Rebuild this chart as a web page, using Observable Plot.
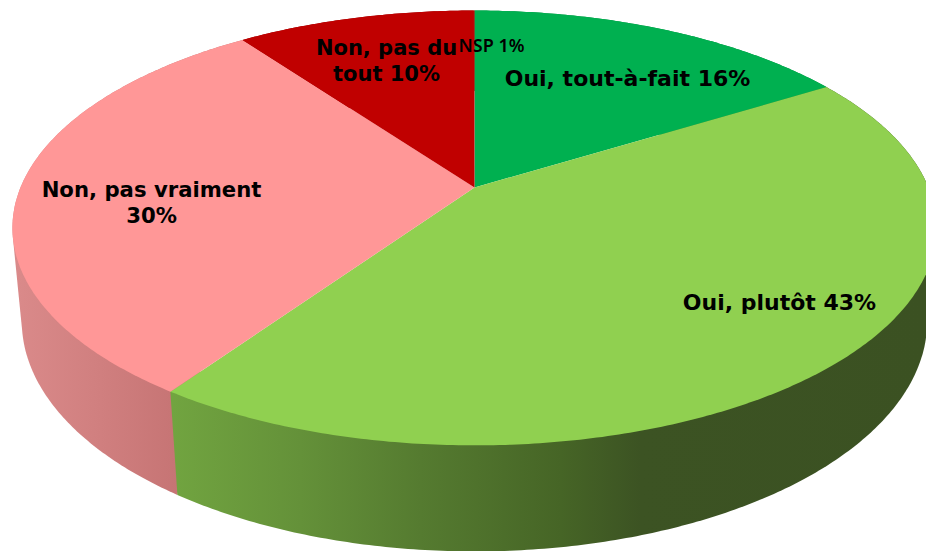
<!DOCTYPE html>
<html lang="fr">
<head>
<meta charset="utf-8">
<style>html,body{margin:0;padding:0;background:#fff;overflow:hidden}</style>
<script src="https://cdn.jsdelivr.net/npm/d3@7"></script>
<script src="https://cdn.jsdelivr.net/npm/@observablehq/plot@0.6"></script>
</head>
<body>
<div id="chart"></div>
<script>
// Data
const categories = ["Oui, tout-à-fait", "Oui, plutôt", "Non, pas vraiment", "Non, pas du tout", "NSP"];
const percentLabels = [16, 43, 30, 10, 1];
const sliceShares = [16.2, 43.4, 30.4, 9.97, 0.03]; // as drawn on the disc
const labelTexts = ["Oui, tout-à-fait 16%", "Oui, plutôt 43%", "Non, pas vraiment\n30%", "Non, pas du\ntout 10%", "NSP 1%"];

// Layout and style
const topColors = ["#00B050", "#90D050", "#FF9797", "#C00000", "#C00000"];
const wallFills = ["#008a3e", "url(#wallGreen)", "url(#wallPink)", "#8f0000", "#8f0000"];
const labelX = [153, 305, -323, -88, 17];
const labelY = [-110, 114, 14, -128, -143];
const labelSizes = [22, 22, 21.2, 21, 18];
const labelFonts = ["DejaVu Sans", "DejaVu Sans", "DejaVu Sans", "DejaVu Sans", "Noto Sans"];
const labelWeights = ["bold", "bold", "bold", "bold", 600];
const wallOrder = [3, 4, 0, 2, 1]; // back to front

// Projection of the tilted disc (perspective) in chart units
const A = 454, B = 209.9, K = 0.186, DEPTH_W = 0.02, DEPTH_Y = 93.6;
function project(pct, lower) {
  const a = pct / 100 * 2 * Math.PI, u = Math.sin(a), v = Math.cos(a);
  const w = 1 + K * v + (lower ? DEPTH_W : 0);
  return [A * u / w, (-B * v + (lower ? DEPTH_Y : 0)) / w];
}
function arc(p0, p1, lower) {
  const n = Math.max(2, Math.ceil((p1 - p0) * 6));
  return d3.range(n + 1).map(i => project(p0 + (p1 - p0) * i / n, lower));
}
let acc = 0;
const slices = sliceShares.map((s, i) => {
  const start = acc; acc += s;
  return {i, name: categories[i], value: percentLabels[i], start, end: acc};
});
const closed = pts => pts.concat([pts[0]]);

const faces = slices.map(s => closed([[0, 0], ...arc(s.start, s.end, false)]));
const walls = slices.map(s => closed(d3.polygonHull([...arc(s.start, s.end, false), ...arc(s.start, s.end, true)])));

const gradient = (id, stops) => {
  const g = d3.create("svg:linearGradient").attr("id", id)
    .attr("gradientUnits", "userSpaceOnUse").attr("x1", 0).attr("x2", 926).attr("y1", 0).attr("y2", 0);
  stops.forEach(([o, c]) => g.append("stop").attr("offset", o / 926).attr("stop-color", c));
  return g.node();
};
const defs = () => {
  const d = d3.create("svg:defs");
  d.append(() => gradient("wallGreen", [[172, "#71a440"], [300, "#649139"], [420, "#557b30"], [560, "#466526"], [640, "#3c5323"], [926, "#3b5122"]]));
  d.append(() => gradient("wallPink", [[15, "#da8a8a"], [100, "#d07f7f"], [178, "#c67474"]]));
  return d.node();
};
const shape = (pts, fill) => Plot.line(pts, {x: d => d[0], y: d => d[1], fill, stroke: "none"});

const chart = Plot.plot({
  width: 926, height: 551,
  margin: 0,
  x: {domain: [-474, 452], range: [0, 926], axis: null},
  y: {domain: [-187, 364], range: [0, 551], axis: null},
  style: {background: "#fff", overflow: "hidden"},
  marks: [
    defs,
    ...wallOrder.map(i => shape(walls[i], wallFills[i])),
    ...faces.map((f, i) => shape(f, topColors[i])),
    ...labelTexts.map((t, i) => Plot.text([t], {
      x: () => labelX[i], y: () => labelY[i], text: d => d,
      fill: "#000",
      fontFamily: labelFonts[i],
      fontSize: labelSizes[i],
      fontWeight: labelWeights[i],
      lineHeight: 1.22
    }))
  ]
});
document.getElementById("chart").append(chart);
</script>
</body>
</html>
